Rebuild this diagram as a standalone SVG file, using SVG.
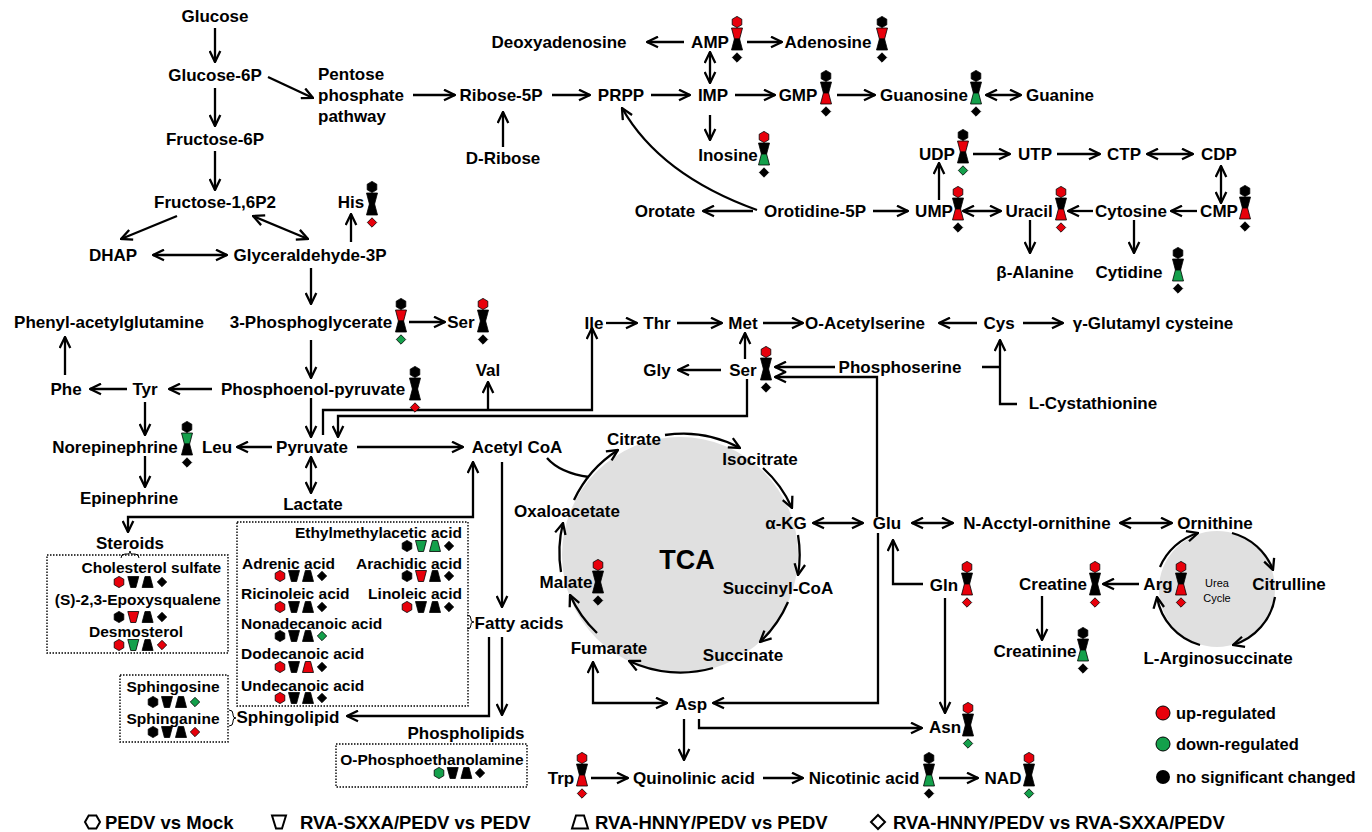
<svg xmlns="http://www.w3.org/2000/svg" xmlns:xlink="http://www.w3.org/1999/xlink" width="1372" height="832" viewBox="0 0 1372 832">
<style>
text{font-family:"Liberation Sans",Arial,Helvetica,sans-serif;font-weight:bold;font-size:17px;text-anchor:middle;fill:#000}
.s{font-size:15.5px}
.l{text-anchor:start}
.e{text-anchor:end}
.lg{font-size:18.5px;text-anchor:start}
.lr{font-size:16.5px;text-anchor:start}
.u{font-size:11px;font-weight:normal}
.c{fill:none;stroke:#000;stroke-width:2.3;marker-end:url(#ah)}
.b{marker-start:url(#ah)}
.n{marker-end:none}
.box{fill:none;stroke:#000;stroke-width:1.4;stroke-dasharray:1.5 1.5}
.br{fill:none;stroke:#000;stroke-width:1}
.ol{fill:none;stroke:#000;stroke-width:2}
use{stroke:#000;stroke-width:0.8}
.r{fill:#e8000b}
.g{fill:#14a04b}
.k{fill:#000}
.cyc{fill:#e0e0e0}
</style>
<defs>
<marker id="ah" viewBox="0 0 13 13" refX="12" refY="6.5" markerWidth="13" markerHeight="13" markerUnits="userSpaceOnUse" orient="auto-start-reverse">
<path d="M1,1.2 L12,6.5 L1,11.8" fill="none" stroke="#000" stroke-width="2.3"/>
</marker>
<path id="hx" d="M0,-5.6 L4.8,-2.8 L4.8,2.8 L0,5.6 L-4.8,2.8 L-4.8,-2.8Z"/>
<path id="it" d="M-5.5,-5.5 L5.5,-5.5 L2.6,5.5 L-2.6,5.5Z"/>
<path id="tr" d="M-2.6,-5.5 L2.6,-5.5 L5.5,5.5 L-5.5,5.5Z"/>
<path id="dm" d="M0,-4.7 L4.7,0 L0,4.7 L-4.7,0Z"/>
</defs>
<rect width="1372" height="832" fill="#fff"/>

<!-- cycles background -->
<circle class="cyc" cx="680" cy="555" r="118"/>
<circle class="cyc" cx="1217" cy="589" r="58"/>

<g id="connectors">
<path class="c" d="M215,28 V62"/>
<path class="c" d="M215,88 V126"/>
<path class="c" d="M215,151 V190"/>
<path class="c" d="M268,77 L313,98"/>
<path class="c" d="M413,95 H455"/>
<path class="c" d="M177,216 L121,239"/>
<path class="c b" d="M253,216 L308,239"/>
<path class="c b" d="M153,255 H227"/>
<path class="c" d="M351,242 V214"/>
<path class="c" d="M311,268 V304"/>
<path class="c" d="M409,322 H445"/>
<path class="c" d="M311,340 V378"/>
<path class="c" d="M212,389 H169"/>
<path class="c" d="M127,389 H90"/>
<path class="c" d="M65,375 V337"/>
<path class="c" d="M145,402 V435"/>
<path class="c" d="M145,456 V487"/>
<path class="c" d="M311,398 V437"/>
<path class="c" d="M272,447 H237"/>
<path class="c b" d="M311,457 V493"/>
<path class="c" d="M357,447 H463"/>
<path class="c" d="M323,435 V410 H592 V328"/>
<path class="c" d="M488,410 V382"/>
<path class="c" d="M747,379 V416 H338 V437"/>
<path class="c b" d="M128,532 V517 H473 V462"/>
<path class="c" d="M502,462 V607"/>
<path class="c" d="M489,637 V716 H347"/>
<path class="c" d="M502,637 V715"/>
<path class="c" d="M606,323 H637"/>
<path class="c" d="M677,323 H722"/>
<path class="c" d="M763,323 H803"/>
<path class="c" d="M977,323 H939"/>
<path class="c" d="M1023,323 H1063"/>
<path class="c" d="M982,367 H1000 M1017,404 H1000 V340"/>
<path class="c" d="M745,359 V333"/>
<path class="c" d="M721,370 H678"/>
<path class="c" d="M835,367 H775"/>
<path class="c" d="M877,517 V377 H775"/>
<path class="c b" d="M813,523 H863"/>
<path class="c b" d="M912,523 H953"/>
<path class="c b" d="M1120,523 H1172"/>
<path class="c" d="M923,584 H893 V540"/>
<path class="c" d="M878,533 V703 H713"/>
<path class="c b" d="M593,662 V703 H667"/>
<path class="c" d="M945,598 V713"/>
<path class="c" d="M699,719 V728 H922"/>
<path class="c" d="M684,719 V760"/>
<path class="c" d="M591,778 H628"/>
<path class="c" d="M763,778 H803"/>
<path class="c" d="M939,778 H978"/>
<path class="c" d="M1139,584 H1103"/>
<path class="c" d="M1042,596 V640"/>
<path class="c" d="M684,42 H647"/>
<path class="c" d="M747,42 H782"/>
<path class="c b" d="M710,52 V83"/>
<path class="c" d="M503,147 V112"/>
<path class="c" d="M552,95 H590"/>
<path class="c" d="M651,95 H690"/>
<path class="c" d="M735,95 H775"/>
<path class="c" d="M837,95 H875"/>
<path class="c b" d="M986,95 H1021"/>
<path class="c" d="M710,115 V140"/>
<path class="c" d="M753,211 H703"/>
<path class="c" d="M757,210 Q660,175 622,108"/>
<path class="c" d="M873,211 H908"/>
<path class="c" d="M939,200 V163"/>
<path class="c" d="M973,154 H1010"/>
<path class="c" d="M1057,154 H1100"/>
<path class="c b" d="M1147,154 H1193"/>
<path class="c b" d="M1221,166 V203"/>
<path class="c" d="M1197,211 H1171"/>
<path class="c" d="M1093,211 H1068"/>
<path class="c b" d="M963,211 H1001"/>
<path class="c" d="M1030,220 V253"/>
<path class="c" d="M1134,220 V253"/>
<!-- TCA arcs -->
<path class="c" d="M665,435 A120,120 0 0 1 740,448"/>
<path class="c" d="M763,468 A120,120 0 0 1 792,508"/>
<path class="c" d="M798,535 A120,120 0 0 1 798,575"/>
<path class="c" d="M788,602 A120,120 0 0 1 760,642"/>
<path class="c" d="M713,668 A120,120 0 0 1 629,661"/>
<path class="c" d="M597,633 A120,120 0 0 1 570,595"/>
<path class="c" d="M561,572 A120,120 0 0 1 563,523"/>
<path class="c" d="M574,500 A120,120 0 0 1 618,450"/>
<path class="c n" d="M547,458 Q560,473 589,477"/>
<!-- urea cycle arcs -->
<path class="c" d="M1160,567 A60,60 0 0 1 1198,533"/>
<path class="c" d="M1232,533 A60,60 0 0 1 1273,570"/>
<path class="c" d="M1275,597 A60,60 0 0 1 1233,645"/>
<path class="c" d="M1200,645 A60,60 0 0 1 1157,597"/>
</g>

<!-- glycolysis -->
<g id="glucose"><text x="215" y="22">Glucose</text></g>
<g id="glucose6p"><text x="215" y="81">Glucose-6P</text></g>
<g id="pentose"><text class="l" x="318" y="80">Pentose</text><text class="l" x="318" y="101">phosphate</text><text class="l" x="318" y="122">pathway</text></g>
<g id="fructose6p"><text x="215" y="145">Fructose-6P</text></g>
<g id="fructose16p2"><text x="215" y="208">Fructose-1,6P2</text></g>
<g id="dhap"><text x="113" y="261">DHAP</text></g>
<g id="g3p"><text x="310" y="261">Glyceraldehyde-3P</text></g>
<g id="his"><text x="351" y="208">His</text>
<g transform="translate(372,204)"><use href="#hx" y="-17" class="k"/><use href="#it" y="-5.5" class="k"/><use href="#tr" y="5.5" class="k"/><use href="#dm" y="18.5" class="r"/></g></g>
<g id="pg3"><text x="311" y="328">3-Phosphoglycerate</text>
<g transform="translate(401,321)"><use href="#hx" y="-17" class="k"/><use href="#it" y="-5.5" class="r"/><use href="#tr" y="5.5" class="k"/><use href="#dm" y="18.5" class="g"/></g></g>
<g id="ser1"><text x="461" y="328">Ser</text>
<g transform="translate(483,321)"><use href="#hx" y="-17" class="r"/><use href="#it" y="-5.5" class="k"/><use href="#tr" y="5.5" class="k"/><use href="#dm" y="18.5" class="k"/></g></g>
<g id="val"><text x="488" y="376">Val</text></g>
<g id="pag"><text x="109" y="328">Phenyl-acetylglutamine</text></g>
<g id="pep"><text x="313" y="395">Phosphoenol-pyruvate</text>
<g transform="translate(415,389)"><use href="#hx" y="-17" class="k"/><use href="#it" y="-5.5" class="k"/><use href="#tr" y="5.5" class="k"/><use href="#dm" y="18.5" class="r"/></g></g>
<g id="tyr"><text x="145" y="395">Tyr</text></g>
<g id="phe"><text x="66" y="395">Phe</text></g>
<g id="norepinephrine"><text x="115" y="453">Norepinephrine</text>
<g transform="translate(187,444)"><use href="#hx" y="-17" class="k"/><use href="#it" y="-5.5" class="g"/><use href="#tr" y="5.5" class="k"/><use href="#dm" y="18.5" class="k"/></g></g>
<g id="epinephrine"><text x="129" y="504">Epinephrine</text></g>
<g id="leu"><text x="217" y="453">Leu</text></g>
<g id="pyruvate"><text x="312" y="453">Pyruvate</text></g>
<g id="lactate"><text x="313" y="510">Lactate</text></g>
<g id="acetylcoa"><text x="517" y="453">Acetyl CoA</text></g>

<!-- lipids -->
<g id="steroids"><text x="130" y="549">Steroids</text>
<path class="br" d="M121,558 Q121,554 125,554 L128,554 Q130,554 130,551 Q130,554 132,554 L135,554 Q139,554 139,558"/>
<rect class="box" x="47" y="555" width="181" height="98"/>
<text class="s e" x="221" y="572.5">Cholesterol sulfate</text>
<g transform="translate(119,582)"><use href="#hx" class="r"/><use href="#it" x="14.3" class="k"/><use href="#tr" x="28.6" class="k"/><use href="#dm" x="43" class="k"/></g>
<text class="s e" x="221" y="604.5">(S)-2,3-Epoxysqualene</text>
<g transform="translate(119,617)"><use href="#hx" class="k"/><use href="#it" x="14.3" class="r"/><use href="#tr" x="28.6" class="k"/><use href="#dm" x="43" class="k"/></g>
<text class="s" x="136" y="636.5">Desmosterol</text>
<g transform="translate(119,645)"><use href="#hx" class="r"/><use href="#it" x="14.3" class="g"/><use href="#tr" x="28.6" class="k"/><use href="#dm" x="43" class="r"/></g>
</g>
<g id="fattyacids"><text x="519" y="629">Fatty acids</text>
<path class="br" d="M467,615 Q471,615 471,619 L471,620 Q471,622 474,622 Q471,622 471,624 L471,625 Q471,629 467,629"/>
<rect class="box" x="237" y="522" width="231" height="184"/>
<text class="s e" x="462" y="537.5">Ethylmethylacetic acid</text>
<g transform="translate(407,546)"><use href="#hx" class="k"/><use href="#it" x="14" class="g"/><use href="#tr" x="28" class="g"/><use href="#dm" x="42" class="k"/></g>
<text class="s l" x="242" y="568.5">Adrenic acid</text>
<g transform="translate(280,576)"><use href="#hx" class="r"/><use href="#it" x="14" class="k"/><use href="#tr" x="28" class="k"/><use href="#dm" x="42" class="k"/></g>
<text class="s e" x="462" y="568.5">Arachidic acid</text>
<g transform="translate(407,576)"><use href="#hx" class="k"/><use href="#it" x="14" class="r"/><use href="#tr" x="28" class="k"/><use href="#dm" x="42" class="k"/></g>
<text class="s l" x="241" y="598.5">Ricinoleic acid</text>
<g transform="translate(280,607)"><use href="#hx" class="r"/><use href="#it" x="14" class="k"/><use href="#tr" x="28" class="k"/><use href="#dm" x="42" class="k"/></g>
<text class="s e" x="462" y="598.5">Linoleic acid</text>
<g transform="translate(407,607)"><use href="#hx" class="r"/><use href="#it" x="14" class="k"/><use href="#tr" x="28" class="k"/><use href="#dm" x="42" class="k"/></g>
<text class="s l" x="241" y="628.5">Nonadecanoic acid</text>
<g transform="translate(280,636)"><use href="#hx" class="k"/><use href="#it" x="14" class="k"/><use href="#tr" x="28" class="k"/><use href="#dm" x="42" class="g"/></g>
<text class="s l" x="241" y="658.5">Dodecanoic acid</text>
<g transform="translate(280,667)"><use href="#hx" class="r"/><use href="#it" x="14" class="k"/><use href="#tr" x="28" class="r"/><use href="#dm" x="42" class="k"/></g>
<text class="s l" x="241" y="690.5">Undecanoic acid</text>
<g transform="translate(280,698)"><use href="#hx" class="r"/><use href="#it" x="14" class="k"/><use href="#tr" x="28" class="k"/><use href="#dm" x="42" class="k"/></g>
</g>
<g id="sphingolipid"><text x="288" y="723">Sphingolipid</text>
<path class="br" d="M229,710 Q233,710 233,714 L233,715 Q233,718 236,718 Q233,718 233,721 L233,722 Q233,726 229,726"/>
<rect class="box" x="120" y="675" width="108" height="67"/>
<text class="s" x="173" y="691.5">Sphingosine</text>
<g transform="translate(153,702)"><use href="#hx" class="k"/><use href="#it" x="14" class="k"/><use href="#tr" x="28" class="k"/><use href="#dm" x="42" class="g"/></g>
<text class="s" x="173" y="723.5">Sphinganine</text>
<g transform="translate(153,732)"><use href="#hx" class="k"/><use href="#it" x="14" class="k"/><use href="#tr" x="28" class="k"/><use href="#dm" x="42" class="r"/></g>
</g>
<g id="phospholipids"><text x="466" y="739">Phospholipids</text>
<rect class="box" x="336" y="744" width="191" height="43"/>
<text class="s" x="432" y="764.5">O-Phosphoethanolamine</text>
<g transform="translate(439,773)"><use href="#hx" class="g"/><use href="#it" x="13.7" class="k"/><use href="#tr" x="27.4" class="k"/><use href="#dm" x="41" class="k"/></g>
</g>

<!-- amino acids -->
<g id="ile"><text x="594" y="329">Ile</text></g>
<g id="thr"><text x="657" y="329">Thr</text></g>
<g id="met"><text x="743" y="329">Met</text></g>
<g id="oacetylserine"><text x="865" y="329">O-Acetylserine</text></g>
<g id="cys"><text x="999" y="329">Cys</text></g>
<g id="gglutamylcysteine"><text x="1153" y="329">γ-Glutamyl cysteine</text></g>
<g id="gly"><text x="657" y="376">Gly</text></g>
<g id="ser2"><text x="743" y="376">Ser</text>
<g transform="translate(766,369)"><use href="#hx" y="-17" class="r"/><use href="#it" y="-5.5" class="k"/><use href="#tr" y="5.5" class="k"/><use href="#dm" y="18.5" class="k"/></g></g>
<g id="phosphoserine"><text x="900" y="373">Phosphoserine</text></g>
<g id="cystathionine"><text x="1093" y="409">L-Cystathionine</text></g>

<!-- TCA -->
<g id="tca"><text x="687" y="568.5" style="font-size:27px">TCA</text></g>
<g id="citrate"><text x="634" y="445">Citrate</text></g>
<g id="isocitrate"><text x="760" y="465">Isocitrate</text></g>
<g id="akg"><text x="786" y="529">α-KG</text></g>
<g id="succinylcoa"><text x="778" y="594">Succinyl-CoA</text></g>
<g id="succinate"><text x="743" y="661">Succinate</text></g>
<g id="fumarate"><text x="609" y="654">Fumarate</text></g>
<g id="malate"><text x="566" y="588">Malate</text>
<g transform="translate(598,582)"><use href="#hx" y="-17" class="r"/><use href="#it" y="-5.5" class="k"/><use href="#tr" y="5.5" class="k"/><use href="#dm" y="18.5" class="k"/></g></g>
<g id="oxaloacetate"><text x="567" y="517">Oxaloacetate</text></g>
<g id="glu"><text x="887" y="529">Glu</text></g>
<g id="nacetylornithine"><text x="1037" y="529">N-Acctyl-ornithine</text></g>
<g id="ornithine"><text x="1215" y="529">Ornithine</text></g>
<g id="gln"><text x="944" y="591">Gln</text>
<g transform="translate(967,584)"><use href="#hx" y="-17" class="r"/><use href="#it" y="-5.5" class="k"/><use href="#tr" y="5.5" class="r"/><use href="#dm" y="18.5" class="r"/></g></g>
<g id="creatine"><text x="1053" y="590">Creatine</text>
<g transform="translate(1095,584)"><use href="#hx" y="-17" class="r"/><use href="#it" y="-5.5" class="k"/><use href="#tr" y="5.5" class="k"/><use href="#dm" y="18.5" class="r"/></g></g>
<g id="arg"><text x="1158" y="590">Arg</text>
<g transform="translate(1181,584)"><use href="#hx" y="-17" class="r"/><use href="#it" y="-5.5" class="k"/><use href="#tr" y="5.5" class="r"/><use href="#dm" y="18.5" class="r"/></g></g>
<g id="ureacycle"><text class="u" x="1217" y="587">Urea</text><text class="u" x="1217" y="602">Cycle</text></g>
<g id="citrulline"><text x="1289" y="590">Citrulline</text></g>
<g id="arginosuccinate"><text x="1218" y="664">L-Arginosuccinate</text></g>
<g id="creatinine"><text x="1035" y="657">Creatinine</text>
<g transform="translate(1083,650)"><use href="#hx" y="-17" class="k"/><use href="#it" y="-5.5" class="k"/><use href="#tr" y="5.5" class="g"/><use href="#dm" y="18.5" class="k"/></g></g>
<g id="asp"><text x="691" y="710">Asp</text></g>
<g id="asn"><text x="945" y="733">Asn</text>
<g transform="translate(968,725)"><use href="#hx" y="-17" class="r"/><use href="#it" y="-5.5" class="k"/><use href="#tr" y="5.5" class="k"/><use href="#dm" y="18.5" class="g"/></g></g>
<g id="trp"><text x="561" y="784">Trp</text>
<g transform="translate(582,775)"><use href="#hx" y="-17" class="r"/><use href="#it" y="-5.5" class="k"/><use href="#tr" y="5.5" class="r"/><use href="#dm" y="18.5" class="r"/></g></g>
<g id="quinolinic"><text x="694" y="784">Quinolinic acid</text></g>
<g id="nicotinic"><text x="864" y="784">Nicotinic acid</text>
<g transform="translate(929,775)"><use href="#hx" y="-17" class="k"/><use href="#it" y="-5.5" class="k"/><use href="#tr" y="5.5" class="g"/><use href="#dm" y="18.5" class="k"/></g></g>
<g id="nad"><text x="1003" y="784">NAD</text>
<g transform="translate(1029,775)"><use href="#hx" y="-17" class="r"/><use href="#it" y="-5.5" class="k"/><use href="#tr" y="5.5" class="k"/><use href="#dm" y="18.5" class="g"/></g></g>

<!-- nucleotides -->
<g id="deoxyadenosine"><text x="559" y="48">Deoxyadenosine</text></g>
<g id="amp"><text x="710" y="48">AMP</text>
<g transform="translate(737,39)"><use href="#hx" y="-17" class="r"/><use href="#it" y="-5.5" class="r"/><use href="#tr" y="5.5" class="k"/><use href="#dm" y="18.5" class="k"/></g></g>
<g id="adenosine"><text x="828" y="48">Adenosine</text>
<g transform="translate(882,39)"><use href="#hx" y="-17" class="k"/><use href="#it" y="-5.5" class="r"/><use href="#tr" y="5.5" class="k"/><use href="#dm" y="18.5" class="k"/></g></g>
<g id="ribose5p"><text x="501" y="101">Ribose-5P</text></g>
<g id="dribose"><text x="503" y="164">D-Ribose</text></g>
<g id="prpp"><text x="621" y="101">PRPP</text></g>
<g id="imp"><text x="713" y="101">IMP</text></g>
<g id="gmp"><text x="798" y="101">GMP</text>
<g transform="translate(826,93)"><use href="#hx" y="-17" class="k"/><use href="#it" y="-5.5" class="k"/><use href="#tr" y="5.5" class="r"/><use href="#dm" y="18.5" class="k"/></g></g>
<g id="guanosine"><text x="924" y="101">Guanosine</text>
<g transform="translate(976,93)"><use href="#hx" y="-17" class="k"/><use href="#it" y="-5.5" class="k"/><use href="#tr" y="5.5" class="g"/><use href="#dm" y="18.5" class="k"/></g></g>
<g id="guanine"><text x="1060" y="101">Guanine</text></g>
<g id="inosine"><text x="728" y="161">Inosine</text>
<g transform="translate(764,154)"><use href="#hx" y="-17" class="r"/><use href="#it" y="-5.5" class="k"/><use href="#tr" y="5.5" class="g"/><use href="#dm" y="18.5" class="k"/></g></g>
<g id="orotate"><text x="665" y="217">Orotate</text></g>
<g id="orotidine5p"><text x="815" y="217">Orotidine-5P</text></g>
<g id="ump"><text x="934" y="217">UMP</text>
<g transform="translate(958,209)"><use href="#hx" y="-17" class="r"/><use href="#it" y="-5.5" class="k"/><use href="#tr" y="5.5" class="r"/><use href="#dm" y="18.5" class="k"/></g></g>
<g id="udp"><text x="937" y="160">UDP</text>
<g transform="translate(963,152)"><use href="#hx" y="-17" class="k"/><use href="#it" y="-5.5" class="r"/><use href="#tr" y="5.5" class="k"/><use href="#dm" y="18.5" class="g"/></g></g>
<g id="utp"><text x="1035" y="160">UTP</text></g>
<g id="ctp"><text x="1124" y="160">CTP</text></g>
<g id="cdp"><text x="1219" y="160">CDP</text></g>
<g id="uracil"><text x="1029" y="217">Uracil</text>
<g transform="translate(1061,209)"><use href="#hx" y="-17" class="r"/><use href="#it" y="-5.5" class="k"/><use href="#tr" y="5.5" class="r"/><use href="#dm" y="18.5" class="r"/></g></g>
<g id="cytosine"><text x="1131" y="217">Cytosine</text></g>
<g id="cmp"><text x="1219" y="217">CMP</text>
<g transform="translate(1245,208)"><use href="#hx" y="-17" class="k"/><use href="#it" y="-5.5" class="k"/><use href="#tr" y="5.5" class="r"/><use href="#dm" y="18.5" class="k"/></g></g>
<g id="balanine"><text x="1035" y="278">β-Alanine</text></g>
<g id="cytidine"><text x="1129" y="278">Cytidine</text>
<g transform="translate(1178,270)"><use href="#hx" y="-17" class="k"/><use href="#it" y="-5.5" class="k"/><use href="#tr" y="5.5" class="g"/><use href="#dm" y="18.5" class="k"/></g></g>

<!-- legends -->
<g id="legend-colors">
<circle cx="1163" cy="713" r="7" fill="#e8000b" stroke="#000" stroke-width="1"/>
<text class="lr" x="1176" y="719">up-regulated</text>
<circle cx="1163" cy="744" r="7" fill="#14a04b" stroke="#000" stroke-width="1"/>
<text class="lr" x="1176" y="750">down-regulated</text>
<circle cx="1163" cy="777" r="7" fill="#000"/>
<text class="lr" x="1176" y="783">no significant changed</text>
</g>
<g id="legend-shapes">
<path class="ol" d="M85,822 L88.7,815.5 L96.3,815.5 L100,822 L96.3,828.5 L88.7,828.5Z"/>
<text class="lg" x="105" y="829">PEDV vs Mock</text>
<path class="ol" d="M272,815.5 L286,815.5 L282,828.5 L276,828.5Z"/>
<text class="lg" x="300" y="829">RVA-SXXA/PEDV vs PEDV</text>
<path class="ol" d="M576,815.5 L584,815.5 L588,828.5 L572,828.5Z"/>
<text class="lg" x="595" y="829">RVA-HNNY/PEDV vs PEDV</text>
<path class="ol" d="M878,815 L885,822 L878,829 L871,822Z"/>
<text class="lg" x="893" y="829">RVA-HNNY/PEDV vs RVA-SXXA/PEDV</text>
</g>
</svg>
